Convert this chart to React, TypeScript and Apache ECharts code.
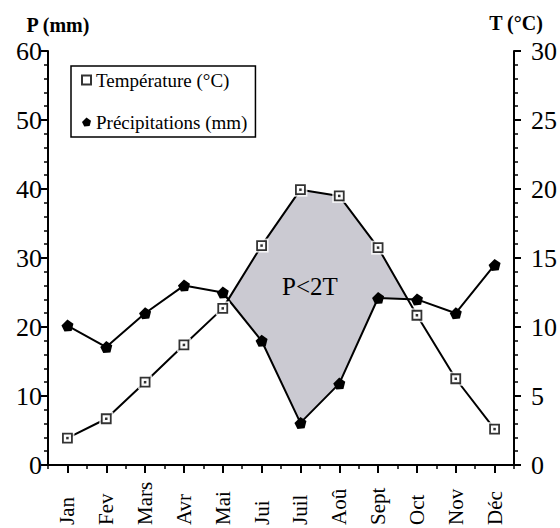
import React, { useEffect, useRef } from 'react';
import * as echarts from 'echarts';

const months = ['Jan', 'Fev', 'Mars', 'Avr', 'Mai', 'Jui', 'Juil', 'Aoû', 'Sept', 'Oct', 'Nov', 'Déc'];
const temperature = [1.95, 3.35, 6.0, 8.7, 11.35, 15.9, 19.95, 19.5, 15.75, 10.85, 6.25, 2.6];
const precipitation = [20.2, 17.1, 22.0, 26.0, 25.0, 18.0, 6.1, 11.8, 24.2, 24.0, 22.0, 29.0];
const pAxis = { min: 0, max: 60, interval: 10 };
const tAxis = { min: 0, max: 30, interval: 5 };
const tempName = 'Température (°C)';
const precName = 'Précipitations (mm)';
const precSymbol = 'path://M0,5 L5,0 L10,3.5 L8.5,9.5 L2.5,10 Z';
const FONT = 'Liberation Serif';

export default function App() {
  const ref = useRef<HTMLDivElement>(null);
  useEffect(() => {
    if (!ref.current) return;
    const chart = echarts.init(ref.current, undefined, { renderer: 'svg' });
    const axisCommon = {
      axisLine: { show: true, lineStyle: { color: '#000', width: 2 } },
      axisTick: { show: true, length: 7, lineStyle: { color: '#000', width: 2 } },
      minorTick: { show: true, splitNumber: 5, length: 4, lineStyle: { color: '#000', width: 1.5 } },
      splitLine: { show: false },
    };
    const renderItem = (params: any, api: any) => {
      const n = months.length;
      const P = (i: number) => api.coord([i, precipitation[i]]);
      const T = (i: number) => api.coord([i, temperature[i] * 2]);
      const d = (i: number) => temperature[i] * 2 - precipitation[i];
      const cross = (i: number) => {
        const t = -d(i) / (d(i + 1) - d(i));
        const a = P(i), b = P(i + 1);
        return [a[0] + (b[0] - a[0]) * t, a[1] + (b[1] - a[1]) * t];
      };
      const children: any[] = [];
      let i = 0;
      while (i < n) {
        if (d(i) > 0) {
          const s = i;
          while (i < n && d(i) > 0) i++;
          const e = i - 1;
          const pts: number[][] = [];
          if (s > 0) pts.push(cross(s - 1));
          for (let k = s; k <= e; k++) pts.push(T(k));
          if (e < n - 1) pts.push(cross(e));
          for (let k = e; k >= s; k--) pts.push(P(k));
          children.push({
            type: 'polygon',
            shape: { points: pts },
            style: { fill: '#cbcad2', stroke: 'none' },
          });
        } else i++;
      }
      return { type: 'group', children };
    };
    chart.setOption({
      animation: false,
      grid: { left: 48, right: 46, top: 51, bottom: 57 },
      legend: {
        orient: 'vertical',
        left: 71,
        top: 66,
        padding: [4, 8, 5, 10],
        itemGap: 22,
        itemWidth: 9,
        itemHeight: 9,
        borderColor: '#000',
        borderWidth: 1.5,
        textStyle: { fontFamily: FONT, fontSize: 19, color: '#000', lineHeight: 20 },
        data: [
          { name: tempName, icon: 'rect' },
          { name: precName, icon: precSymbol },
        ],
      },
      xAxis: [
        {
          type: 'category',
          data: months,
          boundaryGap: true,
          position: 'bottom',
          axisLine: { show: true, lineStyle: { color: '#000', width: 2 } },
          axisTick: { show: true, alignWithLabel: true, length: 8, lineStyle: { color: '#000', width: 2 } },
          axisLabel: {
            rotate: 90,
            align: 'left',
            verticalAlign: 'middle',
            margin: 60,
            fontFamily: FONT,
            fontSize: 21,
            color: '#000',
            interval: 0,
          },
          splitLine: { show: false },
        },
        {
          type: 'category',
          data: months,
          boundaryGap: true,
          position: 'bottom',
          axisLine: { show: false },
          axisTick: { show: true, length: 4, lineStyle: { color: '#000', width: 1.5 }, interval: 0 },
          axisLabel: { show: false },
          splitLine: { show: false },
        },
      ],
      yAxis: [
        {
          type: 'value',
          position: 'left',
          ...pAxis,
          ...axisCommon,
          axisLabel: { margin: 6, fontFamily: FONT, fontSize: 26, color: '#000' },
        },
        {
          type: 'value',
          position: 'right',
          ...tAxis,
          ...axisCommon,
          axisLabel: { margin: 17, fontFamily: FONT, fontSize: 26, color: '#000' },
        },
      ],
      graphic: [
        {
          type: 'text',
          style: { x: 58, y: 25, text: 'P (mm)', fontFamily: FONT, fontWeight: 'bold', fontSize: 20, fill: '#000', textAlign: 'center', textVerticalAlign: 'middle' },
        },
        {
          type: 'text',
          style: { x: 516, y: 23, text: 'T (°C)', fontFamily: FONT, fontWeight: 'bold', fontSize: 20, fill: '#000', textAlign: 'center', textVerticalAlign: 'middle' },
        },
        {
          type: 'text',
          z: 100,
          style: { x: 310, y: 286, text: 'P<2T', fontFamily: FONT, fontSize: 25, fill: '#000', textAlign: 'center', textVerticalAlign: 'middle' },
        },
      ],
      series: [
        {
          type: 'custom',
          name: 'zone',
          silent: true,
          z: 1,
          data: [[0, 0]],
          renderItem,
        },
        {
          type: 'line',
          name: 'tempLine',
          yAxisIndex: 1,
          data: temperature,
          showSymbol: false,
          symbol: 'none',
          z: 2,
          lineStyle: { color: '#000', width: 2 },
          silent: true,
        },
        {
          type: 'line',
          name: precName,
          yAxisIndex: 0,
          data: precipitation,
          symbol: precSymbol,
          symbolSize: 12,
          z: 2,
          itemStyle: { color: '#000' },
          lineStyle: { color: '#000', width: 2 },
        },
        {
          type: 'scatter',
          name: 'halo',
          yAxisIndex: 1,
          data: temperature,
          symbol: 'rect',
          symbolSize: 14,
          z: 3,
          itemStyle: { color: '#fff' },
          silent: true,
        },
        {
          type: 'scatter',
          name: tempName,
          yAxisIndex: 1,
          data: temperature,
          symbol: 'rect',
          symbolSize: 9,
          z: 4,
          itemStyle: { color: '#fff', borderColor: '#000', borderWidth: 1.8 },
        },
        {
          type: 'scatter',
          name: 'tempDot',
          yAxisIndex: 1,
          data: temperature,
          symbol: 'rect',
          symbolSize: 2.5,
          z: 5,
          itemStyle: { color: '#000' },
          silent: true,
        },
      ],
    });
    return () => chart.dispose();
  }, []);
  return <div ref={ref} style={{ position: 'fixed', left: 0, top: 0, width: 560, height: 528, background: '#fff' }} />;
}
